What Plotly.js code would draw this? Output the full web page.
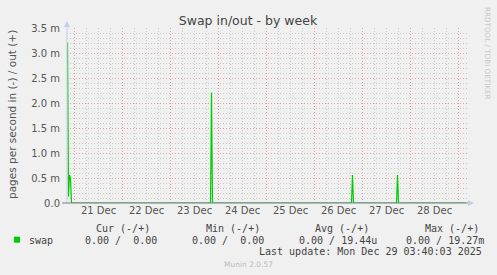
<!DOCTYPE html>
<html>
<head>
<meta charset="utf-8">
<script src="https://cdn.plot.ly/plotly-3.0.1.min.js"></script>
<style>
html,body{margin:0;padding:0;background:#F0F0F0;}
#chart{width:497px;height:275px;}
</style>
</head>
<body>
<div id="chart"></div>
<script>
// ---- data ----
const times = [
  '2025-12-20 20:30','2025-12-20 21:00','2025-12-20 21:30','2025-12-20 22:00','2025-12-20 22:30',
  '2025-12-23 20:00','2025-12-23 20:30','2025-12-23 21:00',
  '2025-12-26 18:30','2025-12-26 19:00','2025-12-26 19:30',
  '2025-12-27 17:00','2025-12-27 17:30','2025-12-27 18:00',
  '2025-12-29 03:40'
];
const swapOut = [ // pages per second (out, +)
  0.00321, 0.00013, 0.00056, 0.00050, 0,
  0, 0.00221, 0,
  0, 0.00056, 0,
  0, 0.00056, 0,
  0
];
const yTickVals = [0, 0.0005, 0.001, 0.0015, 0.002, 0.0025, 0.003, 0.0035];
const yTickText = ['0.0', '0.5 m', '1.0 m', '1.5 m', '2.0 m', '2.5 m', '3.0 m', '3.5 m'];
const legendHeader = ['Cur (-/+)', 'Min (-/+)', 'Avg (-/+)', 'Max (-/+)'];
const legendValues = ['0.00 /  0.00', '0.00 /  0.00', '0.00 / 19.44u', '0.00 / 19.27m'];
const seriesName = 'swap';
const lastUpdate = 'Last update: Mon Dec 29 03:40:03 2025';

// ---- geometry helpers (pixel -> paper) ----
const L = 67, R = 467, T = 28, B = 203;
const W = R - L, H = B - T;
const X = px => (px - L) / W;
const Y = py => (B - py) / H;
const nb = s => s.replace(/ /g, '\u00A0');

const mono = {family: 'DejaVu Sans Mono', size: 10, color: '#444'};
const ann = [];
const headerX = [94.3, 203.7, 313.3, 422.7];
const valueX = [83.3, 190.3, 297, 404.3];
legendHeader.forEach((t, i) => ann.push({xref:'paper', yref:'paper', x:X(headerX[i]), y:Y(228), text:nb(t), showarrow:false, xanchor:'left', yanchor:'middle', font:mono}));
legendValues.forEach((t, i) => ann.push({xref:'paper', yref:'paper', x:X(valueX[i]), y:Y(240), text:nb(t), showarrow:false, xanchor:'left', yanchor:'middle', font:mono}));
ann.push({xref:'paper', yref:'paper', x:X(26.7), y:Y(240), text:seriesName, showarrow:false, xanchor:'left', yanchor:'middle', font:mono});
ann.push({xref:'paper', yref:'paper', x:X(483.5), y:Y(251.5), text:nb(lastUpdate), showarrow:false, xanchor:'right', yanchor:'middle', font:mono});
ann.push({xref:'paper', yref:'paper', x:X(248), y:Y(264.5), text:'Munin 2.0.57', showarrow:false, xanchor:'center', yanchor:'middle', font:{family:'DejaVu Sans', size:7.5, color:'#BBBBBB'}});
ann.push({xref:'paper', yref:'paper', x:X(12), y:Y(115), text:'pages per second in (-) / out (+)', textangle:-90, showarrow:false, xanchor:'center', yanchor:'middle', font:{family:'DejaVu Sans', size:10.5, color:'#555'}});
ann.push({xref:'paper', yref:'paper', x:X(488), y:Y(53), text:'RRDTOOL / TOBI OETIKER', textangle:90, showarrow:false, xanchor:'center', yanchor:'middle', font:{family:'DejaVu Sans', size:7.2, color:'#C8C8C8'}});

const shapes = [
  // left axis line
  {type:'line', xref:'paper', yref:'paper', x0:0, x1:0, y0:0, y1:Y(22), line:{color:'#C8CEEA', width:1}},
  // bottom axis line
  {type:'line', xref:'paper', yref:'paper', x0:X(62), x1:X(471), y0:0, y1:0, line:{color:'#7A7A8C', width:1.2}},
  // arrows
  {type:'path', xref:'paper', yref:'paper', path:`M ${X(64)} ${Y(27)} L ${X(70)} ${Y(27)} L ${X(67)} ${Y(21)} Z`, fillcolor:'#C8CEEA', line:{width:0}},
  {type:'path', xref:'paper', yref:'paper', path:`M ${X(468)} ${Y(200)} L ${X(468)} ${Y(206)} L ${X(474)} ${Y(203)} Z`, fillcolor:'#C8CEEA', line:{width:0}},
  // legend colour box
  {type:'rect', xref:'paper', yref:'paper', x0:X(14), x1:X(20), y0:Y(242.7), y1:Y(236.7), fillcolor:'#00CC00', line:{width:0}}
];

const trace = {
  x: times, y: swapOut, type:'scatter', mode:'lines',
  line:{color:'#00CC00', width:1.2}, hoverinfo:'skip', showlegend:false, cliponaxis:false
};

const layout = {
  width:497, height:275,
  margin:{l:L, r:497-R, t:T, b:275-B, pad:0},
  paper_bgcolor:'#F0F0F0', plot_bgcolor:'#F0F0F0',
  title:{text:'Swap in/out - by week', x:X(248), xref:'paper', y:1-20.5/275, yref:'container', xanchor:'center', yanchor:'middle', font:{family:'DejaVu Sans', size:12.5, color:'#444'}},
  showlegend:false,
  xaxis:{
    type:'date', range:['2025-12-20 20:15','2025-12-29 04:15'],
    tick0:'2025-12-21', dtick:86400000, ticklabelmode:'period', tickformat:'%d %b',
    showgrid:true, gridcolor:'#EBA0A0', griddash:'1px,2px', gridwidth:1,
    minor:{dtick:6*3600000, showgrid:true, gridcolor:'#CCCCCC', griddash:'1px,2px', gridwidth:1},
    ticks:'', showline:false, zeroline:false,
    tickfont:{family:'DejaVu Sans', size:10, color:'#555'}, fixedrange:true
  },
  yaxis:{
    range:[0, 0.0035], tickvals:yTickVals, ticktext:yTickText,
    showgrid:true, gridcolor:'#EBA0A0', griddash:'1px,2px', gridwidth:1,
    minor:{dtick:0.0001, showgrid:true, gridcolor:'#CCCCCC', griddash:'1px,2px', gridwidth:1},
    ticks:'outside', ticklen:4, tickcolor:'rgba(0,0,0,0)', showline:false, zeroline:false,
    tickfont:{family:'DejaVu Sans', size:10, color:'#555'}, fixedrange:true
  },
  annotations: ann,
  shapes: shapes
};

Plotly.newPlot('chart', [trace], layout, {staticPlot:true, displayModeBar:false});
</script>
</body>
</html>
